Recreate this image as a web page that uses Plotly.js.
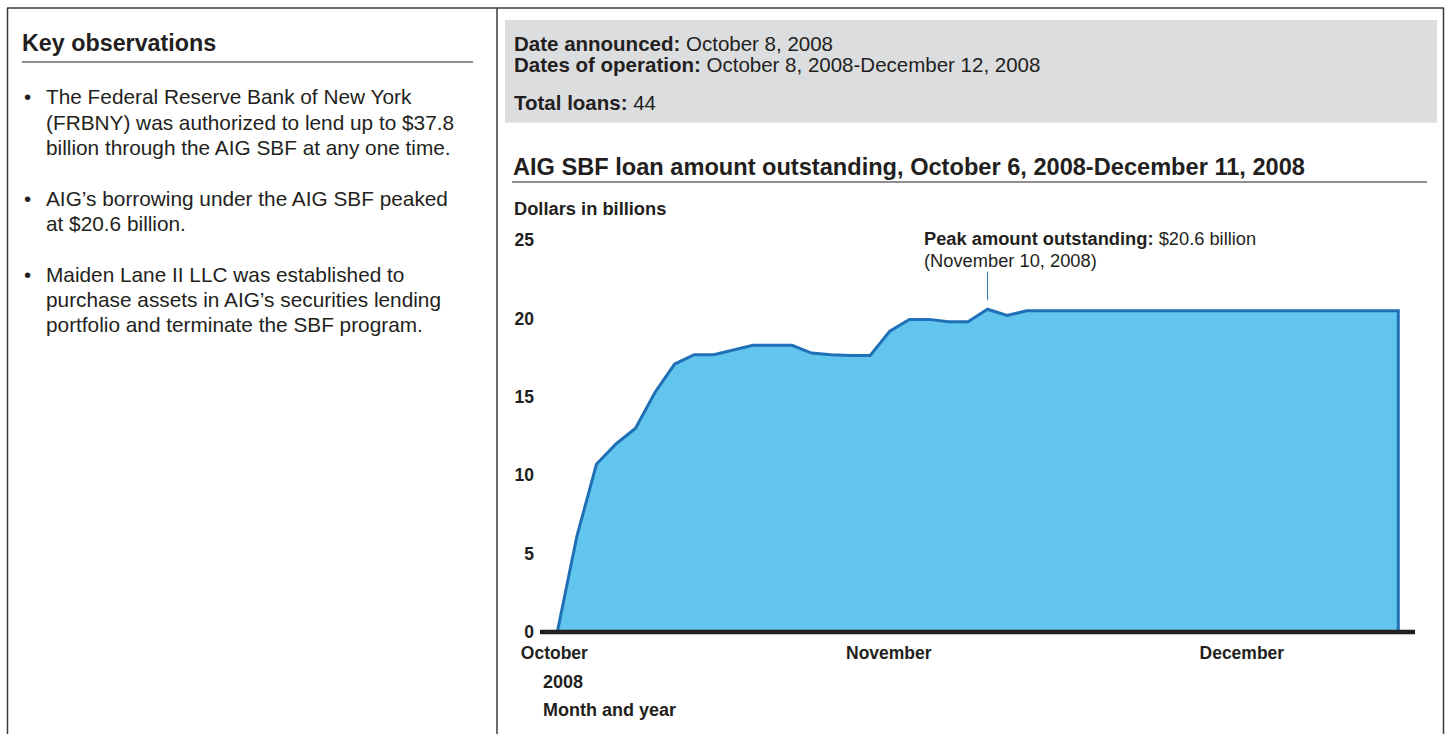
<!DOCTYPE html>
<html>
<head>
<meta charset="utf-8">
<script src="https://cdn.plot.ly/plotly-3.0.1.min.js"></script>
<style>
  html, body { margin: 0; padding: 0; background: #ffffff; overflow: hidden; }
  #chart { width: 1447px; height: 734px; }
</style>
</head>
<body>
<div id="chart"></div>
<script>
// ---- Data ----
// AIG SBF loan amount outstanding (dollars in billions), one value per observation, Oct 6 - Dec 11, 2008
const loanOutstanding = [
  0, 6.1, 10.7, 12.0, 13.0, 15.3, 17.1, 17.7, 17.7, 18.0,
  18.3, 18.3, 18.3, 17.8, 17.7, 17.65, 17.65, 19.2, 19.95, 19.95,
  19.8, 19.8, 20.6, 20.2, 20.5, 20.5, 20.5, 20.5, 20.5, 20.5,
  20.5, 20.5, 20.5, 20.5, 20.5, 20.5, 20.5, 20.5, 20.5, 20.5,
  20.5, 20.5, 20.5, 20.5
];
const monthLabels = ['October', 'November', 'December'];
const yearLabel = '2008';
const yTickValues = [0, 5, 10, 15, 20, 25];
const peakText = ['<b>Peak amount outstanding:</b> $20.6 billion', '(November 10, 2008)'];
const headerLines = [
  '<b>Date announced:</b> October 8, 2008',
  '<b>Dates of operation:</b> October 8, 2008-December 12, 2008',
  '<b>Total loans:</b> 44'
];
const chartTitle = 'AIG SBF loan amount outstanding, October 6, 2008-December 11, 2008';
const yAxisTitle = 'Dollars in billions';
const xAxisTitle = 'Month and year';
const observationsTitle = 'Key observations';
const observations = [
  ['The Federal Reserve Bank of New York', '(FRBNY) was authorized to lend up to $37.8', 'billion through the AIG SBF at any one time.'],
  ['AIG\u2019s borrowing under the AIG SBF peaked', 'at $20.6 billion.'],
  ['Maiden Lane II LLC was established to', 'purchase assets in AIG\u2019s securities lending', 'portfolio and terminate the SBF program.']
];

// ---- Layout helpers (pixel -> paper) ----
const W = 1447, H = 734;
const px = x => x / W;
const py = y => 1 - y / H;
const TEXT = '#231f20';
const FONT = 'Liberation Sans, Arial, Helvetica, sans-serif';

// build the trace from data: index positions, closing the area at the last observation
const xs = loanOutstanding.map((_, i) => i);
const ys = loanOutstanding.slice();
xs.push(xs[xs.length - 1]);
ys.push(0);

const trace = {
  x: xs, y: ys, type: 'scatter', mode: 'lines',
  fill: 'tozeroy', fillcolor: '#62c5ed',
  line: { color: '#2070b8', width: 3, shape: 'linear' },
  hoverinfo: 'skip'
};

const peakVal = Math.max(...loanOutstanding);
const peakIdx = loanOutstanding.indexOf(peakVal);

const annotations = [];
function addText(text, x, y, size, bold, extra) {
  annotations.push(Object.assign({
    text: text, xref: 'paper', yref: 'paper', x: px(x), y: py(y),
    xanchor: 'left', yanchor: 'middle', showarrow: false,
    font: { family: FONT, size: size, color: TEXT, weight: bold ? 'bold' : 'normal' }
  }, extra || {}));
}

// left panel
addText(observationsTitle, 20, 43, 23.3, true);
const bulletLineY = [[96.7, 122.3, 147.7], [198, 223.3], [274, 299.3, 324.7]];
observations.forEach((lines, b) => {
  addText('\u2022', 22, bulletLineY[b][0], 20.5, false);
  lines.forEach((ln, j) => addText(ln, 44, bulletLineY[b][j], 20.8, false));
});

// header box
const headerY = [43.3, 64.3, 102.3];
headerLines.forEach((t, i) => addText(t, 512, headerY[i], 20.5, false));
addText(chartTitle, 511, 167, 23.6, true);
addText(yAxisTitle, 512, 208.5, 18.3, true);

// peak annotation
addText(peakText[0], 922, 239, 18.3, false);
addText(peakText[1], 922, 260.7, 18.3, false);

// x axis footer labels
addText(yearLabel, 541, 682, 18, true);
addText(xAxisTitle, 541, 709.5, 18, true);

const shapes = [
  // outer frame
  { type: 'line', xref: 'paper', yref: 'paper', x0: px(7), x1: px(1444), y0: py(8), y1: py(8), line: { color: '#3a3a3a', width: 1.5 } },
  { type: 'line', xref: 'paper', yref: 'paper', x0: px(7.5), x1: px(7.5), y0: py(8), y1: py(734), line: { color: '#3a3a3a', width: 1.5 } },
  { type: 'line', xref: 'paper', yref: 'paper', x0: px(1443.5), x1: px(1443.5), y0: py(8), y1: py(734), line: { color: '#3a3a3a', width: 1.5 } },
  { type: 'line', xref: 'paper', yref: 'paper', x0: px(497), x1: px(497), y0: py(8), y1: py(734), line: { color: '#3a3a3a', width: 1.5 } },
  // grey info box
  { type: 'rect', xref: 'paper', yref: 'paper', x0: px(505), x1: px(1437), y0: py(20), y1: py(122.7), fillcolor: '#dcdddf', line: { width: 0 }, layer: 'below' },
  // rules
  { type: 'line', xref: 'paper', yref: 'paper', x0: px(22), x1: px(473), y0: py(62), y1: py(62), line: { color: TEXT, width: 1.2 } },
  { type: 'line', xref: 'paper', yref: 'paper', x0: px(512), x1: px(1427), y0: py(182), y1: py(182), line: { color: TEXT, width: 1.2 } },
  // thick baseline at zero
  { type: 'line', xref: 'paper', yref: 'y', x0: px(540), x1: px(1415), y0: 0, y1: 0, line: { color: TEXT, width: 4.5 }, layer: 'above' },
  // peak leader line
  { type: 'line', xref: 'x', yref: 'y', x0: peakIdx, x1: peakIdx, y0: peakVal + 0.58, y1: peakVal + 2.4, line: { color: '#2070b8', width: 1 } }
];

// axis mapping: index 0 at px 557.3, spacing 19.558 px; value 0 at py 632, 15.67 px per unit
const plotLeft = 540, plotRight = 1415, plotTop = 225, plotBottom = 640;
const xAt = p => (p - 557.3) / 19.558;
const yAt = p => (632 - p) / 15.67;

const layout = {
  width: W, height: H,
  margin: { l: 0, r: 0, t: 0, b: 0, pad: 0 },
  paper_bgcolor: '#ffffff', plot_bgcolor: 'rgba(0,0,0,0)',
  showlegend: false,
  xaxis: {
    domain: [px(plotLeft), px(plotRight)],
    range: [xAt(plotLeft), xAt(plotRight)],
    showgrid: false, zeroline: false, showline: false, ticks: '',
    tickmode: 'array', tickvals: [-0.15, 16.95, 35.0], ticktext: monthLabels,
    tickfont: { family: FONT, size: 17.5, color: TEXT, weight: 'bold' },
    fixedrange: true
  },
  yaxis: {
    domain: [py(plotBottom), py(plotTop)],
    range: [yAt(plotBottom), yAt(plotTop)],
    showgrid: false, zeroline: false, showline: false, ticks: '',
    ticklabelstandoff: 5,
    tickmode: 'array', tickvals: yTickValues, ticktext: yTickValues.map(String),
    tickfont: { family: FONT, size: 17.5, color: TEXT, weight: 'bold' },
    fixedrange: true
  },
  annotations: annotations,
  shapes: shapes
};

Plotly.newPlot('chart', [trace], layout, { displayModeBar: false, staticPlot: true });
</script>
</body>
</html>
